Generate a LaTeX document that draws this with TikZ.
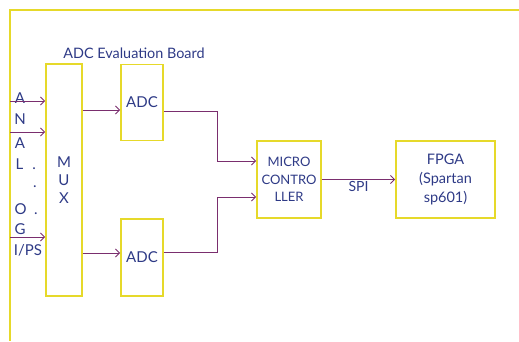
\documentclass[tikz,border=0pt]{standalone}
\usepackage{fontspec}
\setmainfont{Lato}
\usetikzlibrary{arrows.meta,positioning,calc}
\definecolor{BoxYellow}{HTML}{E6D92A}
\definecolor{WirePurple}{HTML}{7A2E6E}
\definecolor{TextBlue}{HTML}{2E3A86}
\tikzset{
  block/.style={draw=BoxYellow,line width=1.8pt,align=center,inner sep=0pt,
                text=TextBlue,font=\fontsize{13}{17.5}\selectfont},
  wire/.style={-{Straight Barb[length=4pt,width=8pt]},draw=WirePurple,line width=0.9pt},
  lbl/.style={text=TextBlue,inner sep=0pt,font=\fontsize{15}{16}\selectfont},
  frame/.style={draw=BoxYellow,line width=2pt}
}

\begin{document}
\begin{tikzpicture}[x=1pt,y=-1pt]
  \useasboundingbox (0,0) rectangle (519,341);
  % outer frame
  \draw[frame] (519,10) -- (9.5,10) -- (9.5,341);

  \node[lbl,font=\fontsize{14.4}{16}\selectfont] (title) at (134,53) {ADC Evaluation Board};

  \node[block,minimum width=36,minimum height=232,font=\fontsize{15}{18}\selectfont] (mux) at (64,180) {M\\U\\X};
  \node[block,minimum width=42,minimum height=76,font=\fontsize{15}{16}\selectfont] (adc1) at (142,102.5) {ADC};
  \node[block,minimum width=42,minimum height=77,font=\fontsize{15}{16}\selectfont] (adc2) at (142,257.5) {ADC};
  \node[block,minimum width=64,minimum height=77] (mcu) at (289,179.5) {MICRO\\CONTRO\\LLER};
  \node[block,minimum width=99,minimum height=77,font=\fontsize{14.5}{19}\selectfont] (fpga) at (445.5,179.5) {FPGA\\(Spartan\\sp601)};

  % analog input letters
  \node[lbl] (la) at (20,98) {A};
  \node[lbl] (ln) at (20,119) {N};
  \node[lbl] (la2) at (20,143) {A};
  \node[lbl,anchor=west] (ll) at (15.5,164) {L\hspace{0.6em}.};
  \node[lbl] (ldot) at (35,187) {.};
  \node[lbl,anchor=west] (lo) at (14.5,209) {O\hspace{0.5em}.};
  \node[lbl] (lg) at (20,229) {G};
  \node[lbl] (lips) at (28,250) {I/PS};

  \coordinate (in1) at (10,101);
  \coordinate (in2) at (10,132);
  \coordinate (in3) at (10,237);
  \coordinate (mx1) at (0,110);
  \coordinate (mx2) at (0,253);
  \coordinate (ad1) at (0,111);
  \coordinate (ad2) at (0,252);
  \coordinate (bend1) at (217,161);
  \coordinate (bend2) at (217,197);

  \draw[wire] (in1) -- (in1 -| mux.west);
  \draw[wire] (in2) -- (in2 -| mux.west);
  \draw[wire] (in3) -- (in3 -| mux.west);

  \draw[wire] (mux.east |- mx1) -- (adc1.west |- mx1);
  \draw[wire] (mux.east |- mx2) -- (adc2.west |- mx2);

  \draw[wire] (adc1.east |- ad1) -| (bend1) -- (mcu.west |- bend1);
  \draw[wire] (adc2.east |- ad2) -| (bend2) -- (mcu.west |- bend2);

  \draw[wire] (mcu.east) -- node[lbl,below=1pt,font=\fontsize{14}{15}\selectfont] (spi) {SPI} (fpga.west);
\end{tikzpicture}
\end{document}
